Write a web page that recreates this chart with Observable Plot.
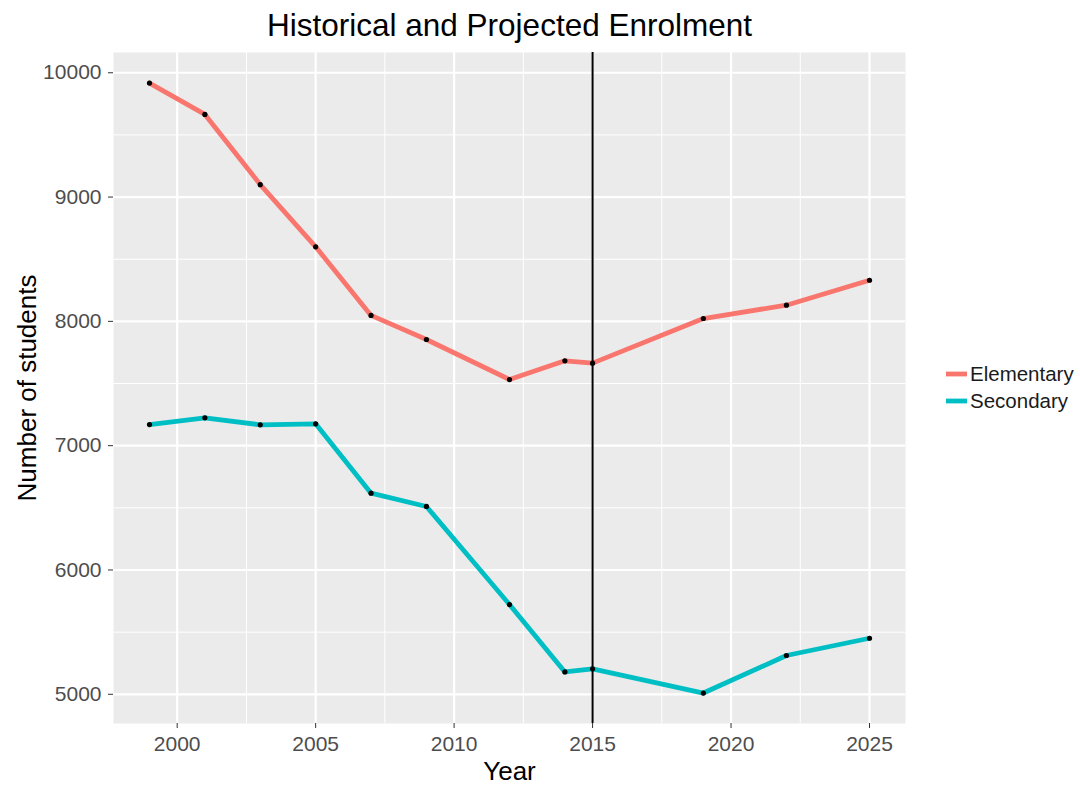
<!DOCTYPE html>
<html>
<head>
<meta charset="utf-8">
<script src="https://cdn.jsdelivr.net/npm/d3@7"></script>
<script src="https://cdn.jsdelivr.net/npm/@observablehq/plot@0.6"></script>
<style>
  html, body { margin: 0; padding: 0; background: white; }
  #wrap { position: relative; width: 1080px; height: 785px; font-family: "Liberation Sans", Arial, sans-serif; }
  #legend { position: absolute; left: 946px; top: 360px; font-size: 20.5px; color: #1a1a1a; }
  #legend .row { display: flex; align-items: center; height: 27.5px; }
  #legend svg { margin-right: 3px; }
</style>
</head>
<body>
<div id="wrap"><div id="chart"></div><div id="legend"></div></div>
<script>
const years = [1999, 2001, 2003, 2005, 2007, 2009, 2012, 2014, 2015, 2019, 2022, 2025];
const elementary = [9917, 9665, 9100, 8600, 8048, 7854, 7532, 7683, 7664, 8023, 8130, 8331];
const secondary = [7170, 7224, 7168, 7176, 6618, 6511, 5722, 5180, 5205, 5010, 5312, 5451];
const levels = ["Elementary", "Secondary"];
const levelColors = ["#F8766D", "#00BFC4"];
const xTicks = [2000, 2005, 2010, 2015, 2020, 2025];
const xMinor = [2002.5, 2007.5, 2012.5, 2017.5, 2022.5];
const yTicks = [5000, 6000, 7000, 8000, 9000, 10000];
const yMinor = [5500, 6500, 7500, 8500, 9500];
const cutYear = [2015];
const titleText = "Historical and Projected Enrolment";
const xTitle = "Year";
const yTitle = "Number of students";

const series = [elementary, secondary];
const data = levels.flatMap((level, i) =>
  years.map((year, j) => ({ year, students: series[i][j], level }))
);

const chart = Plot.plot({
  width: 1080,
  height: 785,
  marginLeft: 113,
  marginRight: 175,
  marginTop: 52,
  marginBottom: 62,
  style: { fontFamily: "Liberation Sans, Arial, sans-serif", background: "white" },
  x: { domain: [1997.7, 2026.3] },
  y: { domain: [4765, 10163] },
  color: { domain: levels, range: levelColors },
  marks: [
    Plot.frame({ fill: "#EBEBEB", stroke: null }),
    Plot.gridY(yMinor, { stroke: "white", strokeOpacity: 1, strokeWidth: 1 }),
    Plot.gridX(xMinor, { stroke: "white", strokeOpacity: 1, strokeWidth: 1 }),
    Plot.gridY(yTicks, { stroke: "white", strokeOpacity: 1, strokeWidth: 2.2 }),
    Plot.gridX(xTicks, { stroke: "white", strokeOpacity: 1, strokeWidth: 2.2 }),
    Plot.line(data, { x: "year", y: "students", z: "level", stroke: "level", strokeWidth: 4.8 }),
    Plot.ruleX(cutYear, { stroke: "black", strokeWidth: 2 }),
    Plot.dot(data, { x: "year", y: "students", r: 2.6, fill: "black", stroke: null }),
    Plot.axisX(xTicks, { tickSize: 5, tickPadding: 8, fontSize: 21, stroke: "#333333", fill: "#4D4D4D", label: null, tickFormat: d => String(d) }),
    Plot.axisY(yTicks, { tickSize: 5, tickPadding: 7, fontSize: 21, stroke: "#333333", fill: "#4D4D4D", label: null, tickFormat: d => String(d) }),
    Plot.text([titleText], { frameAnchor: "top", lineAnchor: "middle", dy: -27, fontSize: 31.5, fill: "black" }),
    Plot.text([xTitle], { frameAnchor: "bottom", lineAnchor: "middle", dy: 48, fontSize: 26, fill: "black" }),
    Plot.text([yTitle], { frameAnchor: "left", textAnchor: "middle", lineAnchor: "middle", dx: -86, rotate: -90, fontSize: 26, fill: "black" })
  ]
});
document.getElementById("chart").appendChild(chart);

const legend = d3.select("#legend");
levels.forEach((level, i) => {
  const row = legend.append("div").attr("class", "row");
  const s = row.append("svg").attr("width", 21).attr("height", 10);
  s.append("line").attr("x1", 0).attr("x2", 21).attr("y1", 5).attr("y2", 5)
    .attr("stroke", chart.scale("color").apply(level)).attr("stroke-width", 4.8);
  row.append("span").text(level);
});
</script>
</body>
</html>
